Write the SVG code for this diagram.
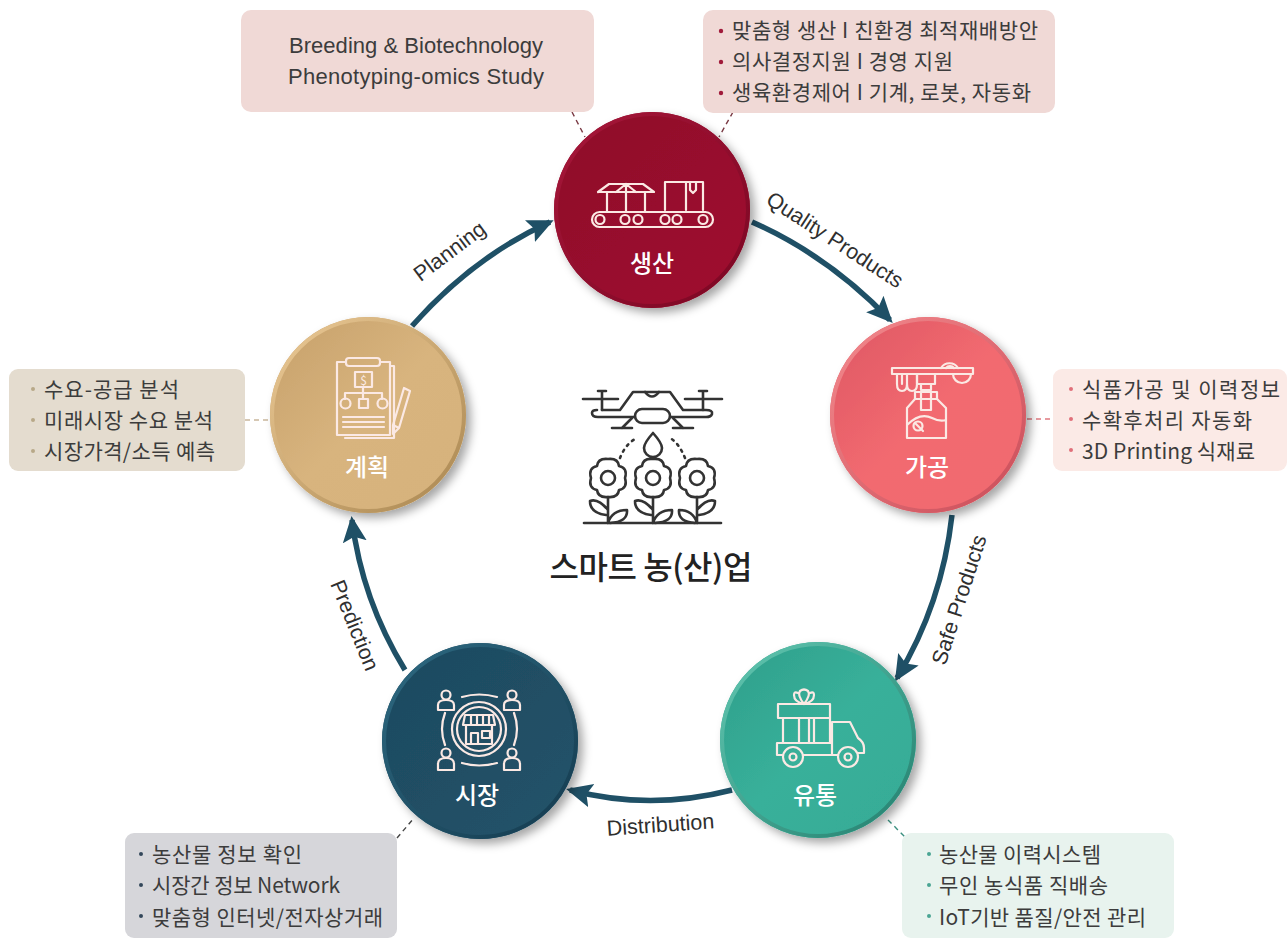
<svg xmlns="http://www.w3.org/2000/svg" width="1287" height="943" viewBox="0 0 1287 943">
<style>
text{font-family:"Noto Sans CJK KR","Liberation Sans",sans-serif;}
.t{font-size:21px;fill:#3c3c3c;}
.e{font-family:"Liberation Sans","Noto Sans CJK KR",sans-serif;font-size:22px;fill:#3c3c3c;}
.c{font-size:21.500px;fill:#2f2f2f;text-anchor:middle;font-family:"Liberation Sans",sans-serif;}
.n{font-size:24px;font-weight:500;fill:#fff;text-anchor:middle;}
.i{fill:none;stroke:#fbe9e4;stroke-width:2.2;stroke-linecap:round;stroke-linejoin:round;}
.k{fill:none;stroke:#333;stroke-width:2.6;stroke-linecap:round;stroke-linejoin:round;}
.a{fill:none;stroke:#1f5066;stroke-width:5.500;marker-end:url(#ah);}
.d{fill:none;stroke-width:1.400;stroke-dasharray:5 4;}
.b{fill:none;stroke-width:4;}
</style>
<defs>
<marker id="ah" markerUnits="userSpaceOnUse" markerWidth="30" markerHeight="30" refX="22" refY="12" orient="auto"><path d="M0 0L26 12L0 24L5 12Z" fill="#1f5066"/></marker>
<filter id="s" x="-20%" y="-20%" width="145%" height="145%"><feDropShadow dx="5" dy="5" stdDeviation="5" flood-color="#000" flood-opacity=".35"/></filter>
<linearGradient id="g1" x1="0" y1="0" x2="1" y2="1"><stop offset="0" stop-color="#8e0a2a"/><stop offset="1" stop-color="#a00c30"/></linearGradient>
<linearGradient id="g2" x1="0" y1="0" x2="1" y2="1"><stop offset="0" stop-color="#dd5663"/><stop offset=".5" stop-color="#f26a70"/><stop offset="1" stop-color="#f06a70"/></linearGradient>
<linearGradient id="g3" x1="0" y1="0" x2="1" y2="1"><stop offset="0" stop-color="#2f9e8a"/><stop offset=".5" stop-color="#38b09a"/><stop offset="1" stop-color="#36ab96"/></linearGradient>
<linearGradient id="g4" x1="0" y1="0" x2="1" y2="1"><stop offset="0" stop-color="#1d4a60"/><stop offset="1" stop-color="#235369"/></linearGradient>
<linearGradient id="g5" x1="0" y1="0" x2="1" y2="1"><stop offset="0" stop-color="#c6a06a"/><stop offset=".5" stop-color="#d8b47e"/><stop offset="1" stop-color="#d6b27c"/></linearGradient>
<linearGradient id="b1" x1="0" y1="0" x2="1" y2="1"><stop offset="0" stop-color="#a8173a"/><stop offset="1" stop-color="#7a0622"/></linearGradient>
<linearGradient id="b2" x1="0" y1="0" x2="1" y2="1"><stop offset="0" stop-color="#f48a8e"/><stop offset="1" stop-color="#c94c58"/></linearGradient>
<linearGradient id="b3" x1="0" y1="0" x2="1" y2="1"><stop offset="0" stop-color="#62c8b2"/><stop offset="1" stop-color="#237f6e"/></linearGradient>
<linearGradient id="b4" x1="0" y1="0" x2="1" y2="1"><stop offset="0" stop-color="#2e6a82"/><stop offset="1" stop-color="#143a4e"/></linearGradient>
<linearGradient id="b5" x1="0" y1="0" x2="1" y2="1"><stop offset="0" stop-color="#ecca96"/><stop offset="1" stop-color="#a98650"/></linearGradient>
</defs>

<g id="connectors">
<path class="a" d="M412 326Q473 257 550 222"/>
<path class="a" d="M752 222Q829 256 890 320"/>
<path class="a" d="M952 515Q942 604 897 678"/>
<path class="a" d="M732 790Q650 811 570 790"/>
<path class="a" d="M405 670Q362 600 352 520"/>
<path class="d" stroke="#7a3a44" d="M572 112L585 137"/>
<path class="d" stroke="#7a3a44" d="M733 112L719 137"/>
<path class="d" stroke="#c9b79c" d="M245 420H270"/>
<path class="d" stroke="#e07a80" d="M1027 419H1053"/>
<path class="d" stroke="#444" d="M397 838L414 818"/>
<path class="d" stroke="#3a8f7f" d="M888 820L906 838"/>
</g>

<g id="labels-edges">
<text class="c" transform="translate(454 257) rotate(-37)">Planning</text>
<text class="c" transform="translate(831 246) rotate(33)">Quality Products</text>
<text class="c" transform="translate(966 602) rotate(-72)">Safe Products</text>
<text class="c" transform="translate(661 832) rotate(-4)">Distribution</text>
<text class="c" transform="translate(348 628) rotate(68)">Prediction</text>
</g>

<g id="box-research">
<rect x="241" y="10" width="353" height="102" rx="10" fill="#f0d9d6"/>
<text class="e" x="416" y="53" text-anchor="middle" textLength="254">Breeding &amp; Biotechnology</text>
<text class="e" x="416" y="84" text-anchor="middle" textLength="256">Phenotyping-omics Study</text>
</g>
<g id="box-production">
<rect x="703" y="10" width="352" height="103" rx="10" fill="#f0d9d6"/>
<circle cx="721" cy="31" r="2.200" fill="#a01a3a"/><circle cx="721" cy="62" r="2.200" fill="#a01a3a"/><circle cx="721" cy="93" r="2.200" fill="#a01a3a"/>
<text class="t" x="732" y="38" textLength="306">맞춤형 생산 I 친환경 최적재배방안</text>
<text class="t" x="732" y="69" textLength="221">의사결정지원 I 경영 지원</text>
<text class="t" x="732" y="100" textLength="299">생육환경제어 I 기계, 로봇, 자동화</text>
</g>
<g id="box-plan">
<rect x="9" y="369" width="236" height="102" rx="9" fill="#e4dccf"/>
<circle cx="33" cy="389" r="2" fill="#b8a888"/><circle cx="33" cy="420" r="2" fill="#b8a888"/><circle cx="33" cy="451" r="2" fill="#b8a888"/>
<text class="t" x="44" y="397" textLength="135">수요-공급 분석</text>
<text class="t" x="44" y="428" textLength="169">미래시장 수요 분석</text>
<text class="t" x="44" y="459" textLength="171">시장가격/소득 예측</text>
</g>
<g id="box-process">
<rect x="1053" y="369" width="234" height="102" rx="9" fill="#fbeae6"/>
<circle cx="1071" cy="389" r="2" fill="#e0707a"/><circle cx="1071" cy="419" r="2" fill="#e0707a"/><circle cx="1071" cy="450" r="2" fill="#e0707a"/>
<text class="t" x="1082" y="397" textLength="198">식품가공 및 이력정보</text>
<text class="t" x="1082" y="428" textLength="170">수확후처리 자동화</text>
<text class="t" x="1082" y="459" textLength="173">3D Printing 식재료</text>
</g>
<g id="box-market">
<rect x="125" y="833" width="272" height="105" rx="9" fill="#d6d6da"/>
<circle cx="141" cy="854" r="2" fill="#33475a"/><circle cx="141" cy="885" r="2" fill="#33475a"/><circle cx="141" cy="916" r="2" fill="#33475a"/>
<text class="t" x="152" y="862" textLength="150">농산물 정보 확인</text>
<text class="t" x="152" y="893" textLength="188">시장간 정보 Network</text>
<text class="t" x="152" y="925" textLength="231">맞춤형 인터넷/전자상거래</text>
</g>
<g id="box-distribution">
<rect x="902" y="833" width="272" height="105" rx="9" fill="#e8f3ee"/>
<circle cx="929" cy="854" r="2" fill="#4aa593"/><circle cx="929" cy="885" r="2" fill="#4aa593"/><circle cx="929" cy="916" r="2" fill="#4aa593"/>
<text class="t" x="939" y="862" textLength="162">농산물 이력시스템</text>
<text class="t" x="939" y="893" textLength="169">무인 농식품 직배송</text>
<text class="t" x="939" y="925" textLength="207">IoT기반 품질/안전 관리</text>
</g>

<g id="node-production">
<circle cx="652" cy="210" r="98" fill="url(#g1)" filter="url(#s)"/>
<circle class="b" cx="652" cy="210" r="96" stroke="url(#b1)"/>
<g class="i">
<rect x="592" y="212" width="121" height="15" rx="7.500"/>
<circle cx="600" cy="219.500" r="4.500"/><circle cx="625" cy="219.500" r="4.500"/><circle cx="638" cy="219.500" r="4.500"/><circle cx="665" cy="219.500" r="4.500"/><circle cx="677" cy="219.500" r="4.500"/><circle cx="703" cy="219.500" r="4.500"/>
<path d="M607 212V192H645V212M626 212V184M598 192L609 184H643L654 192H598M626 184L616 192M626 184L636 192"/>
<path d="M665 210V182H703V210M686 182V210M690 182V190L693 193L696 190V182"/>
</g>
<text class="n" x="652" y="272">생산</text>
</g>

<g id="node-process">
<circle cx="928" cy="415" r="98" fill="url(#g2)" filter="url(#s)"/>
<circle class="b" cx="928" cy="415" r="96" stroke="url(#b2)"/>
<g class="i">
<rect x="892" y="368" width="81" height="6"/>
<path d="M897 374V384Q897 391 902 391Q907 391 907 384V374M902 374V384M907 384Q907 391 912 391Q917 391 917 384V374"/>
<path d="M941 368A10 10 0 0 1 958 368M946 368A5 5 0 0 1 954 368M953 374A9 9 0 0 0 971 374"/>
<path d="M917 374V384H935V374M921 384V390H931V384"/>
<path d="M915 399V392H937V399M921 392V410H931V392"/>
<path d="M915 399L907 408V438H946V408L937 399H915M907 425Q920 412 932 418Q940 422 946 420"/>
<circle cx="918" cy="426" r="4.500"/><path d="M915 423L923 431"/>
</g>
<text class="n" x="927" y="476">가공</text>
</g>

<g id="node-distribution">
<circle cx="818" cy="740" r="98" fill="url(#g3)" filter="url(#s)"/>
<circle class="b" cx="818" cy="740" r="96" stroke="url(#b3)"/>
<g class="i">
<rect x="778" y="704" width="52" height="14"/>
<path d="M783 718V742M830 718V742M799 718V742M809 718V742M814 718V742"/>
<path d="M804 704Q794 702 794 695Q794 691 798 693M804 704Q814 702 814 695Q814 691 810 693M804 704Q797 695 800 691Q804 688 808 691Q811 695 804 704"/>
<path d="M777 743V755H782M803 755H838M777 743H832M832 722H850L858 738Q864 742 864 748V753H858M832 722V755"/>
<circle cx="793" cy="757" r="10"/><circle cx="793" cy="757" r="3.500"/>
<circle cx="848" cy="757" r="10"/><circle cx="848" cy="757" r="3.500"/>
</g>
<text class="n" x="815" y="804">유통</text>
</g>

<g id="node-market">
<circle cx="480" cy="741" r="98" fill="url(#g4)" filter="url(#s)"/>
<circle class="b" cx="480" cy="741" r="96" stroke="url(#b4)"/>
<g class="i">
<circle cx="479" cy="729" r="27"/><circle cx="479" cy="729" r="22"/>
<path d="M465 715H493L495 725H463ZM471 715V725M477 715V725M483 715V725M489 715V725M466 725V744H492V725M471 744V733H478V744M482 731H490V738H482Z"/>
<path d="M462 697Q479 692 497 697M462 763Q479 768 497 763M445 713Q439 729 445 745M514 713Q520 729 514 745"/>
<circle cx="446" cy="695" r="4.500"/><path d="M438 710V705Q438 700 446 700Q454 700 454 705V710Z"/>
<circle cx="512" cy="695" r="4.500"/><path d="M504 710V705Q504 700 512 700Q520 700 520 705V710Z"/>
<circle cx="446" cy="753" r="4.500"/><path d="M438 770V764Q438 758 446 758Q454 758 454 764V770Z"/>
<circle cx="512" cy="753" r="4.500"/><path d="M504 770V764Q504 758 512 758Q520 758 520 764V770Z"/>
</g>
<text class="n" x="477" y="804">시장</text>
</g>

<g id="node-plan">
<circle cx="368" cy="415" r="98" fill="url(#g5)" filter="url(#s)"/>
<circle class="b" cx="368" cy="415" r="96" stroke="url(#b5)"/>
<g class="i">
<path d="M346 362H337V435H390V362H380M390 366H394V438H345"/>
<rect x="346" y="358" width="34" height="8" rx="3"/>
<rect x="355" y="372" width="17" height="15"/>
<text x="363.500" y="385" font-size="12" fill="#fbe9e4" stroke="none" text-anchor="middle">$</text>
<path d="M363 387V393M345 393H382M345 393V399M363 393V399M382 393V399"/>
<circle cx="345.500" cy="403.500" r="5"/><rect x="359" y="399" width="9" height="9"/><circle cx="382.500" cy="403.500" r="5"/>
<path d="M343 417H384M343 422H384M343 427H384"/>
<path d="M404 388L410 391L399 428L393 425ZM393 425L393 434L399 428"/>
</g>
<text class="n" x="367" y="476">계획</text>
</g>

<g id="node-center">
<g class="k">
<path d="M583 399H618M602 392V410M598 391H606"/>
<path d="M685 399H722M703 392V410M699 391H707"/>
<path d="M602 410H620L633 392H670L683 410H706Q713 410 712 414Q711 417 706 417H670M635 417H598Q592 417 592 413Q592 410 597 410"/>
<path d="M645 392Q652 401 659 392"/>
<rect x="635" y="409" width="35" height="14" rx="7"/>
<path d="M632 418L622 428M612 428H632M673 418L683 428M673 428H693"/>
<path d="M653 433Q662 443 662 448A9 9 0 0 1 644 448Q644 443 653 433Z"/>
<path d="M620 458Q626 443 637 438" stroke-dasharray="2 5"/>
<path d="M685 458Q679 443 670 438" stroke-dasharray="2 5"/>
</g>
<g class="k">
<g><circle cx="608" cy="478" r="7"/><path d="M608 459Q618 458 619 466Q628 468 625 478Q628 488 619 490Q618 498 608 497Q598 498 597 490Q588 488 591 478Q588 468 597 466Q598 458 608 459Z"/><path d="M608 497V523M608 510Q598 498 590 501Q590 513 606 515M608 523Q612 510 627 510Q628 522 610 523"/></g>
<g><circle cx="653" cy="478" r="7"/><path d="M653 459Q663 458 664 466Q673 468 670 478Q673 488 664 490Q663 498 653 497Q643 498 642 490Q633 488 636 478Q633 468 642 466Q643 458 653 459Z"/><path d="M653 497V523M653 510Q643 498 635 501Q635 513 651 515M653 523Q657 510 672 510Q673 522 655 523"/></g>
<g><circle cx="697" cy="478" r="7"/><path d="M697 459Q707 458 708 466Q717 468 714 478Q717 488 708 490Q707 498 697 497Q687 498 686 490Q677 488 680 478Q677 468 686 466Q687 458 697 459Z"/><path d="M697 497V523M697 510Q707 498 715 501Q715 513 699 515M697 523Q693 510 679 510Q678 522 695 523"/></g>
<path d="M584 523H721"/>
</g>
<text x="651" y="579" font-size="32" font-weight="500" fill="#222" text-anchor="middle" textLength="203">스마트 농(산)업</text>
</g>
</svg>
